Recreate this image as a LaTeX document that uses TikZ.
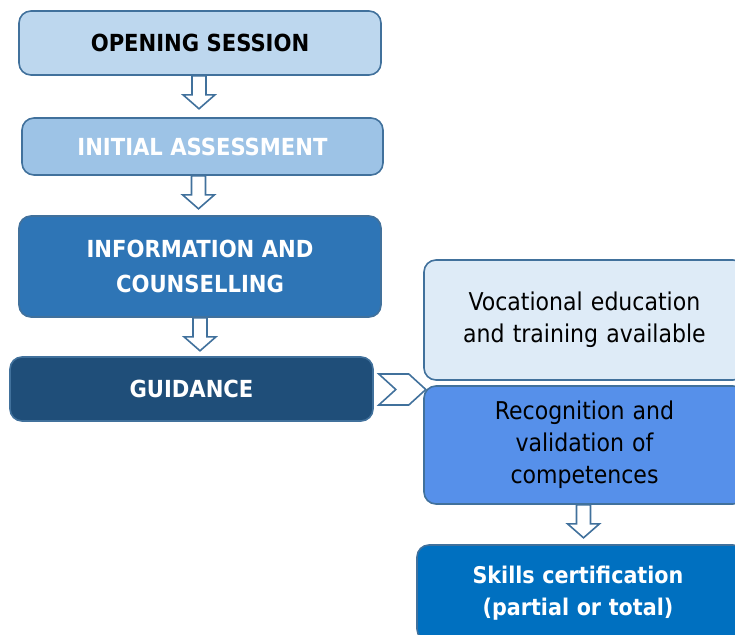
\documentclass[tikz,border=0pt]{standalone}
\usepackage{fontspec}
\setmainfont{DejaVu Sans Condensed}
\definecolor{bordc}{HTML}{41719C}
\definecolor{fA}{HTML}{BDD7EE}
\definecolor{fB}{HTML}{9DC3E6}
\definecolor{fC}{HTML}{2E75B6}
\definecolor{fD}{HTML}{1F4E79}
\definecolor{fE}{HTML}{DEEBF7}
\definecolor{fF}{HTML}{5690EA}
\definecolor{fG}{HTML}{0070C0}
\tikzset{
  box/.style={draw=bordc, line width=1.6pt, rounded corners=12pt, align=center, inner sep=0pt,
    font=\fontsize{24.5}{32}\selectfont},
  capsbox/.style={box, font=\fontsize{23.5}{35}\selectfont\bfseries},
  hollow/.style={draw=bordc, fill=white, line width=1.6pt, line join=miter}
}
\newcommand\myDownArrow[2]{%
  \draw[hollow] ([xshift=#2-7pt]#1.south) -- ++(0,19) -- ++(-9,0) -- ++(16,14) -- ++(16,-14) -- ++(-9,0) -- ++(0,-19) -- cycle;}
\begin{document}
\begin{tikzpicture}[x=1pt,y=-1pt]
\useasboundingbox (0,0) rectangle (735,634);
\clip (0,0) rectangle (735,634);
\node[capsbox, fill=fA, text=black, minimum width=362pt, minimum height=64pt] (open) at (200,43) {OPENING SESSION};
\node[capsbox, fill=fB, text=white, minimum width=361pt, minimum height=57pt] (init) at (202.5,146.5) {INITIAL ASSESSMENT};
\node[capsbox, fill=fC, text=white, minimum width=362pt, minimum height=101pt] (info) at (200,266.5) {INFORMATION AND\\COUNSELLING};
\node[capsbox, fill=fD, text=white, minimum width=363pt, minimum height=64pt] (guid) at (191.5,389) {GUIDANCE};
\node[box, fill=fE, text=black, minimum width=321pt, minimum height=120pt, text width=310pt] (voc) at (584.5,320) {Vocational education\\and training available};
\node[box, fill=fF, text=black, minimum width=321pt, minimum height=118pt, text width=310pt] (rec) at (584.5,445) {Recognition and\\validation of\\competences};
\node[box, fill=fG, text=white, minimum width=328pt, minimum height=96pt, text width=310pt, font=\fontsize{23}{32}\selectfont\bfseries] (skill) at (581,593) {\hspace*{-6pt}Skills certification\\\hspace*{-6pt}(partial or total)};
\myDownArrow{open}{-1pt}
\myDownArrow{init}{-4pt}
\myDownArrow{info}{0pt}
\myDownArrow{rec}{-1pt}
\coordinate (chev) at ([xshift=5pt,yshift=15pt]guid.east);
\draw[hollow] (chev) -- ++(30,0) -- ++(17,15.5) -- ++(-17,15.5) -- ++(-30,0) -- ++(17,-15.5) -- cycle;
\end{tikzpicture}
\end{document}
